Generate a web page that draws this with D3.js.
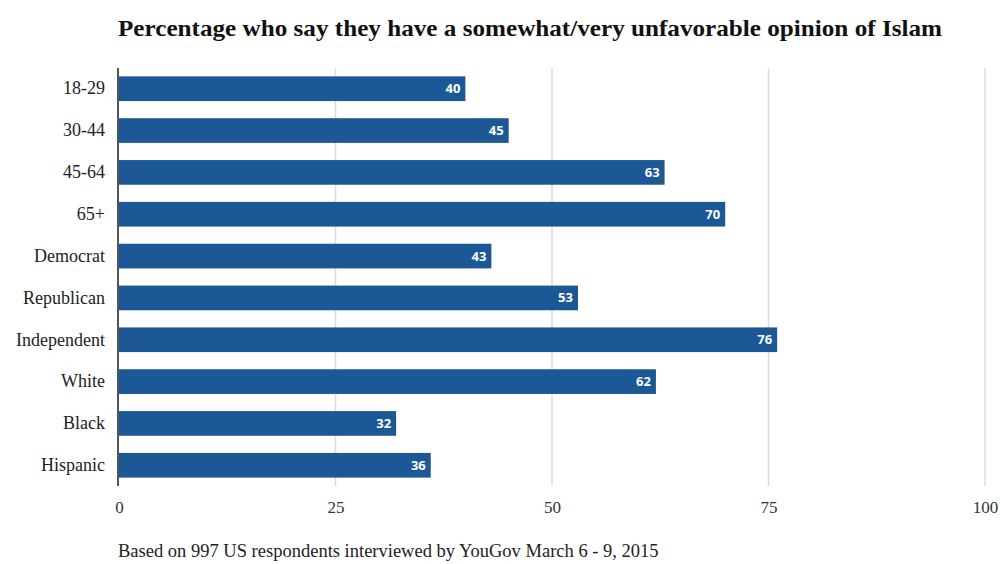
<!DOCTYPE html>
<html><head><meta charset="utf-8">
<script src="https://cdn.jsdelivr.net/npm/d3@7"></script>
<style>body{margin:0;background:#fff}svg{display:block}</style>
</head><body>
<svg id="chart" width="1000" height="564"></svg>
<script>
const categories = ["18-29","30-44","45-64","65+","Democrat","Republican","Independent","White","Black","Hispanic"];
const values = [40,45,63,70,43,53,76,62,32,36];
const ticks = [0,25,50,75,100];
const title = "Percentage who say they have a somewhat/very unfavorable opinion of Islam";
const note = "Based on 997 US respondents interviewed by YouGov March 6 - 9, 2015";

const svg = d3.select("#chart");
const serif = "'Liberation Serif','DejaVu Serif',serif";
const x = d3.scaleLinear().domain([0,100]).range([119,985]);
const y = d3.scaleBand().domain(categories).range([68,486]).paddingInner(0.41).paddingOuter(0.2);

svg.append("text").attr("x",530).attr("y",36).attr("text-anchor","middle")
  .attr("font-family",serif).attr("font-weight","bold").attr("font-size",23).attr("fill","#111")
  .attr("textLength",824).attr("lengthAdjust","spacingAndGlyphs")
  .text(title);

// gridlines
svg.append("g").selectAll("line").data(ticks.filter(t=>t>0)).join("line")
  .attr("x1",d=>x(d)).attr("x2",d=>x(d)).attr("y1",68).attr("y2",486)
  .attr("stroke","#dcdcdc").attr("stroke-width",1.5);

// bars
svg.append("g").selectAll("rect").data(values).join("rect")
  .attr("x",x(0)).attr("y",(d,i)=>y(categories[i]))
  .attr("width",d=>x(d)-x(0)).attr("height",y.bandwidth())
  .attr("fill","#1c5896");

// value labels
svg.append("g").selectAll("text").data(values).join("text")
  .attr("x",d=>x(d)-5).attr("y",(d,i)=>y(categories[i])+y.bandwidth()/2)
  .attr("dy","0.35em").attr("text-anchor","end")
  .attr("font-family","'Open Sans',sans-serif").attr("font-weight","bold").attr("font-size",13)
  .attr("fill","#fff").text(d=>d);

// y axis
const yAxis = svg.append("g").attr("transform",`translate(${x(0)-1},0)`)
  .call(d3.axisLeft(y).tickSize(0).tickPadding(13));
yAxis.select(".domain").attr("stroke","#555").attr("stroke-width",2).attr("d","M0,68V486");
yAxis.selectAll("text").attr("font-family",serif).attr("font-size",18).attr("fill","#222");

// x axis
const xAxis = svg.append("g").attr("transform","translate(0,486)")
  .call(d3.axisBottom(x).tickValues(ticks).tickSize(0).tickPadding(15));
xAxis.select(".domain").remove();
xAxis.selectAll("text").attr("font-family",serif).attr("font-size",17).attr("fill","#333");

svg.append("text").attr("x",118).attr("y",557)
  .attr("font-family",serif).attr("font-size",18.5).attr("fill","#222").text(note);
</script>
</body></html>
